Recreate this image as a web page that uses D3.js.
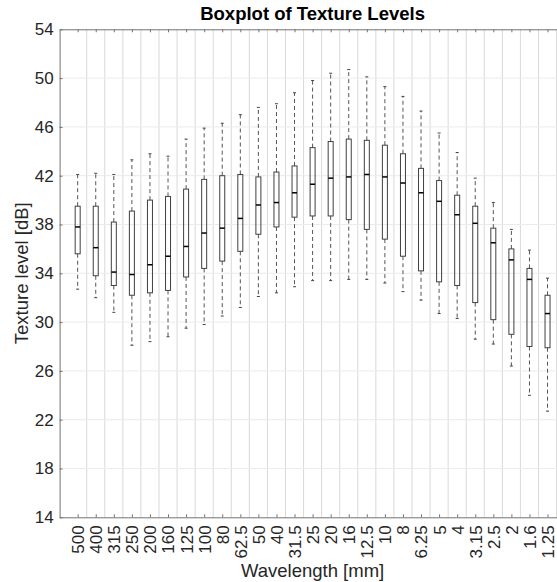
<!DOCTYPE html>
<html>
<head>
<meta charset="utf-8">
<script src="https://cdn.jsdelivr.net/npm/d3@7"></script>
<style>
  body { margin: 0; background: #fff; }
  svg { display: block; font-family: "Liberation Sans", Arial, sans-serif; }
</style>
</head>
<body>
<svg></svg>
<script>
// Wavelength bands (mm)
const categories = ["500", "400", "315", "250", "200", "160", "125", "100", "80", "62.5", "50", "40", "31.5",
    "25", "20", "16", "12.5", "10", "8", "6.25", "5", "4", "3.15", "2.5", "2", "1.6", "1.25"];

// Box statistics (dB)
const whiskerHigh = [42.1, 42.2, 42.1, 43.3, 43.8, 43.6, 45.0, 45.9, 46.3, 47.0, 47.6, 47.9, 48.8,
    49.8, 50.4, 50.7, 50.1, 49.3, 48.5, 47.3, 45.5, 43.9, 41.8, 39.8, 37.6, 35.9, 33.6];
const q3 = [39.5, 39.5, 38.2, 39.1, 40.0, 40.3, 40.9, 41.7, 42.0, 42.1, 41.9, 42.3, 42.8,
    44.3, 44.8, 45.0, 44.9, 44.5, 43.8, 42.6, 41.6, 40.4, 39.5, 37.7, 36.0, 34.4, 32.2];
const medians = [37.8, 36.1, 34.1, 33.9, 34.7, 35.4, 36.2, 37.3, 37.7, 38.5, 39.6, 39.8, 40.6,
    41.3, 41.8, 41.9, 42.1, 41.9, 41.4, 40.6, 39.9, 38.8, 38.1, 36.5, 35.1, 33.5, 30.7];
const q1 = [35.6, 33.8, 33.0, 32.2, 32.4, 32.6, 33.7, 34.4, 35.0, 35.8, 37.2, 37.8, 38.6,
    38.7, 38.7, 38.4, 37.6, 36.8, 35.4, 34.2, 33.3, 33.0, 31.6, 30.2, 29.0, 28.0, 27.9];
const whiskerLow = [32.7, 32.0, 30.8, 28.1, 28.4, 28.8, 29.5, 29.8, 30.5, 31.2, 32.1, 32.4, 32.9,
    33.4, 33.4, 33.5, 33.5, 33.2, 32.5, 31.8, 30.7, 30.3, 28.6, 28.2, 26.4, 24.0, 22.7];

const yTicks = [14, 18, 22, 26, 30, 34, 38, 42, 46, 50, 54];

const width = 557, height = 582;
const mLeft = 59.6, mRight = 565.6, mTop = 29.3, mBottom = 517.3;

const svg = d3.select("svg")
    .attr("width", width)
    .attr("height", height);

const x = d3.scaleLinear().domain([0, 28]).range([mLeft, mRight]);
const y = d3.scaleLinear().domain([14, 54]).range([mBottom, mTop]);

const data = categories.map((c, i) => ({
    pos: i + 1, hi: whiskerHigh[i], q3: q3[i], med: medians[i], q1: q1[i], lo: whiskerLow[i]
}));

// grid
svg.append("g").selectAll("line")
    .data(d3.range(1.5, 28, 1))
    .enter().append("line")
    .attr("x1", d => x(d)).attr("x2", d => x(d))
    .attr("y1", mTop).attr("y2", mBottom)
    .attr("stroke", "#d9d9d9").attr("stroke-width", 1);

svg.append("g").selectAll("line")
    .data(yTicks.slice(1, -1))
    .enter().append("line")
    .attr("x1", mLeft).attr("x2", mRight)
    .attr("y1", d => y(d)).attr("y2", d => y(d))
    .attr("stroke", "#ebebeb").attr("stroke-width", 1);

// axes
const gx = svg.append("g")
    .attr("transform", `translate(0,${mBottom})`)
    .call(d3.axisBottom(x)
        .tickValues(d3.range(1, 28))
        .tickFormat(d => categories[d - 1])
        .tickSizeInner(-3).tickSizeOuter(0));
gx.selectAll("text")
    .attr("font-size", 17)
    .attr("fill", "#262626")
    .attr("text-anchor", "end")
    .attr("x", 0).attr("y", 0)
    .attr("dy", "0.35em")
    .attr("transform", "translate(0,8) rotate(-90)");

// top ticks
svg.append("g")
    .attr("transform", `translate(0,${mTop})`)
    .call(d3.axisTop(x).tickValues(d3.range(1, 28)).tickFormat("").tickSizeInner(-3).tickSizeOuter(0));

const gy = svg.append("g")
    .attr("transform", `translate(${mLeft},0)`)
    .call(d3.axisLeft(y).tickValues(yTicks).tickSizeInner(-3).tickSizeOuter(0).tickPadding(6));
gy.selectAll("text").attr("font-size", 17).attr("fill", "#262626");

svg.selectAll(".domain").attr("stroke", "#737373");
svg.selectAll(".tick line").attr("stroke", "#737373");

// boxes
const bw = 5;
const boxes = svg.append("g").selectAll("g")
    .data(data)
    .enter().append("g");

boxes.append("line")
    .attr("x1", d => x(d.pos)).attr("x2", d => x(d.pos))
    .attr("y1", d => y(d.q3)).attr("y2", d => y(d.hi))
    .attr("stroke", "#555").attr("stroke-dasharray", "4,3");
boxes.append("line")
    .attr("x1", d => x(d.pos)).attr("x2", d => x(d.pos))
    .attr("y1", d => y(d.q1)).attr("y2", d => y(d.lo))
    .attr("stroke", "#555").attr("stroke-dasharray", "4,3");
boxes.append("line")
    .attr("x1", d => x(d.pos) - 1.5).attr("x2", d => x(d.pos) + 1.5)
    .attr("y1", d => y(d.hi)).attr("y2", d => y(d.hi))
    .attr("stroke", "#444");
boxes.append("line")
    .attr("x1", d => x(d.pos) - 1.5).attr("x2", d => x(d.pos) + 1.5)
    .attr("y1", d => y(d.lo)).attr("y2", d => y(d.lo))
    .attr("stroke", "#444");
boxes.append("rect")
    .attr("x", d => x(d.pos) - bw / 2)
    .attr("y", d => y(d.q3))
    .attr("width", bw)
    .attr("height", d => y(d.q1) - y(d.q3))
    .attr("fill", "none")
    .attr("stroke", "#404040");
boxes.append("line")
    .attr("x1", d => x(d.pos) - bw / 2).attr("x2", d => x(d.pos) + bw / 2)
    .attr("y1", d => y(d.med)).attr("y2", d => y(d.med))
    .attr("stroke", "#000").attr("stroke-width", 1.5);

// labels
svg.append("text")
    .attr("x", (mLeft + mRight) / 2).attr("y", 20)
    .attr("text-anchor", "middle")
    .attr("font-size", 18.5).attr("font-weight", "bold")
    .attr("fill", "#000")
    .text("Boxplot of Texture Levels");

svg.append("text")
    .attr("x", (mLeft + mRight) / 2).attr("y", 577)
    .attr("text-anchor", "middle")
    .attr("font-size", 18.5).attr("fill", "#262626")
    .text("Wavelength [mm]");

svg.append("text")
    .attr("transform", `translate(28,${(mTop + mBottom) / 2}) rotate(-90)`)
    .attr("text-anchor", "middle")
    .attr("font-size", 18.5).attr("fill", "#262626")
    .text("Texture level [dB]");
</script>
</body>
</html>
